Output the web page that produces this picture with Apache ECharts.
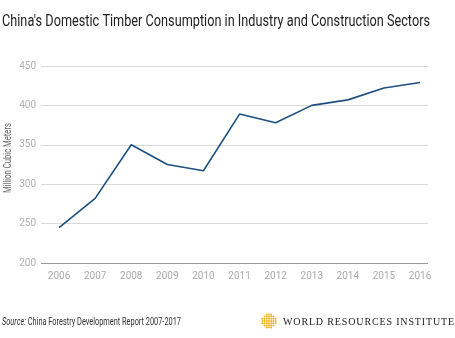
<!DOCTYPE html>
<html><head><meta charset="utf-8">
<script src="https://cdn.jsdelivr.net/npm/echarts@6/dist/echarts.min.js"></script>
<style>
html,body{margin:0;padding:0;background:#fff;}
#c{width:455px;height:338px;position:relative;}
#wri{position:absolute;left:283px;top:316px;font-family:"Liberation Serif","DejaVu Serif",serif;font-size:10px;color:#222;white-space:nowrap;}
</style></head>
<body>
<div id="c"></div>
<div id="wri">WORLD RESOURCES INSTITUTE</div>
<script>
const years = [2006,2007,2008,2009,2010,2011,2012,2013,2014,2015,2016];
const consumption = [245,282,350,325,317,389,378,400,407,422,429];
const yTicks = [200,250,300,350,400,450];
const titleText = "China's Domestic Timber Consumption in Industry and Construction Sectors";
const yAxisName = "Million Cubic Meters";
const sourceLabel = "Source:";
const sourceText = " China Forestry Development Report 2007-2017";

const cv = document.createElement('canvas').getContext('2d');
function w(font, txt){ cv.font = font; return cv.measureText(txt).width; }
const fam = 'Roboto, "Liberation Sans", sans-serif';

const tFont = 17;
const tScale = 428 / w(tFont+'px '+fam, titleText);
const sFont = 10.5;
const sScale = 179 / (w('italic '+sFont+'px '+fam, sourceLabel) + w(sFont+'px '+fam, sourceText));
const nFont = 11;
const nScale = 70 / w(nFont+'px '+fam, yAxisName);

const wriEl = document.getElementById('wri');
const wriW = w('10px "Liberation Serif", serif', wriEl.textContent);
wriEl.style.letterSpacing = ((172 - wriW) / (wriEl.textContent.length)) + 'px';

const chart = echarts.init(document.getElementById('c'), null, {renderer:'canvas'});

const logoDots = [];
const cx = 269, cy = 321;
for (let i=-3;i<=3;i++){
  for (let j=-3;j<=3;j++){
    if (Math.abs(i)+Math.abs(j) <= 4) {
      logoDots.push({type:'circle', shape:{cx:cx+i*2.2, cy:cy+j*2.2, r:1.0}, style:{fill:'#f2b21b'}, silent:true});
    }
  }
}

chart.setOption({
  animation:false,
  grid:{left:41, right:27, top:66, bottom:75, containLabel:false},
  xAxis:{
    type:'value', min:2005.5, max:2016.22,
    axisLine:{show:false}, axisTick:{show:false}, splitLine:{show:false},
    axisLabel:{customValues:years, color:'#ababab', fontFamily:fam, fontSize:10, margin:8,
      formatter:v=>String(Math.round(v))}
  },
  yAxis:{
    type:'value', min:200, max:450, interval:50,
    axisLine:{show:false}, axisTick:{show:false},
    axisLabel:{color:'#b0b0b0', fontFamily:fam, fontSize:10, margin:5},
    splitLine:{lineStyle:{color:'#d9d9d9', width:1}}
  },
  series:[{
    type:'line', data:years.map((y,i)=>[y,consumption[i]]),
    symbol:'none', lineStyle:{color:'#1d4f82', width:1.6},
    markLine:{silent:true, symbol:'none', label:{show:false},
      lineStyle:{color:'#999', width:1.2, type:'solid'},
      data:[{yAxis:200}]}
  }],
  graphic:[
    {type:'text', x:2, y:22, scaleX:tScale, silent:true, style:{
      text:titleText, fontFamily:fam, fontSize:tFont, fill:'#222', verticalAlign:'middle'}},
    {type:'text', x:8, y:158, rotation:Math.PI/2, scaleX:nScale, silent:true, style:{
      text:yAxisName, fontFamily:fam, fontSize:nFont, fill:'#666', align:'center', verticalAlign:'middle'}},
    {type:'text', x:2, y:322, scaleX:sScale, silent:true, style:{
      text:'{i|'+sourceLabel+'}{n|'+sourceText+'}', verticalAlign:'middle',
      rich:{i:{fontFamily:fam, fontStyle:'italic', fontSize:sFont, fill:'#333'},
            n:{fontFamily:fam, fontSize:sFont, fill:'#333'}}
    }},
    ...logoDots
  ]
});
</script>
</body></html>
